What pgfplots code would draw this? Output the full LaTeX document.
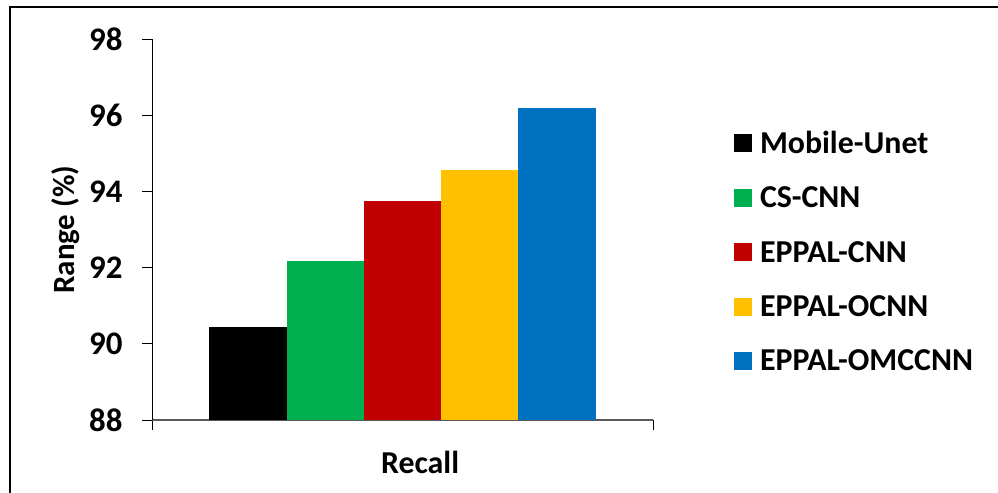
\documentclass[border=0pt]{standalone}
\usepackage{pgfplots}
\pgfplotsset{compat=1.18}
\usepackage{fontspec}
\setmainfont{Carlito}
\definecolor{cblack}{HTML}{000000}
\definecolor{cgreen}{HTML}{00B050}
\definecolor{cred}{HTML}{C00000}
\definecolor{cyellow}{HTML}{FFC000}
\definecolor{cblue}{HTML}{0070C0}
\definecolor{axgray}{HTML}{595959}
\begin{document}
\begin{tikzpicture}[x=1bp,y=1bp]
\useasboundingbox (0,0) rectangle (998,493);
\draw[line width=2bp] (10,-20) -- (10,486) -- (1020,486);
\begin{axis}[
  at={(152bp,73bp)}, anchor=south west,
  scale only axis, width=501bp, height=380.5bp,
  ybar=0pt, bar width=77.3bp,
  xmin=-1, xmax=1, ymin=88, ymax=98,
  ytick={88,90,...,98},
  xtick={-1,1}, xticklabels={,},
  tick align=outside, major tick length=10bp,
  tick style={black, line width=0.8bp},
  axis x line*=bottom, axis y line*=left,
  x axis line style={axgray, line width=1.5bp, -},
  y axis line style={black, line width=0.8bp, -},
  /pgf/number format/assume math mode=true,
  yticklabel style={font=\bfseries\fontsize{33}{33}\selectfont, xshift=-16bp},
  xlabel={Recall},
  xlabel style={font=\bfseries\fontsize{32}{32}\selectfont, at={(axis description cs:0.535,0)}, anchor=center, yshift=-42bp},
  ylabel={Range (\%)},
  ylabel style={font=\bfseries\fontsize{31}{31}\selectfont, at={(axis description cs:-0.1717,0.5)}, anchor=center},
  legend image code/.code={\fill[#1] (0bp,-9bp) rectangle (18bp,9bp);},
  legend style={draw=none, at={(axis description cs:1.1617,0.765)}, anchor=north west,
    inner sep=0pt, outer sep=0pt,
    font=\bfseries\fontsize{32}{32}\selectfont,
    row sep=28bp, cells={anchor=west},
    /tikz/every odd column/.append style={column sep=6bp}},
]
\addplot[fill=cblack, draw=none] coordinates {(0,90.45)};
\addplot[fill=cgreen, draw=none] coordinates {(0,92.18)};
\addplot[fill=cred, draw=none] coordinates {(0,93.76)};
\addplot[fill=cyellow, draw=none] coordinates {(0,94.57)};
\addplot[fill=cblue, draw=none] coordinates {(0,96.2)};
\legend{Mobile-Unet, CS-CNN, EPPAL-CNN, EPPAL-OCNN, EPPAL-OMCCNN}
\end{axis}
\end{tikzpicture}
\end{document}
